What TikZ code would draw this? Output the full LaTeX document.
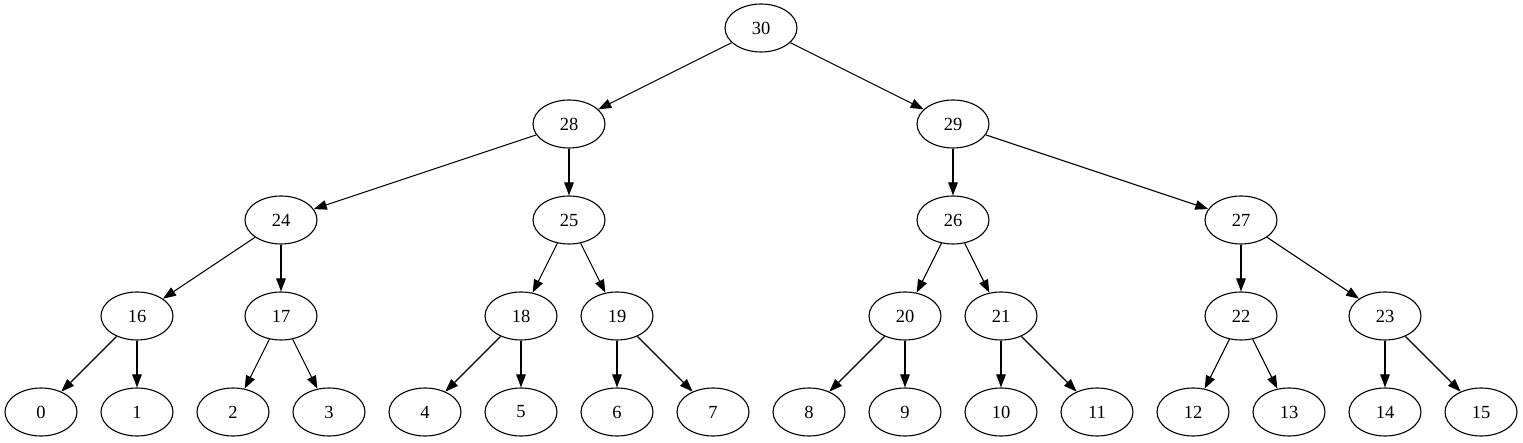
\documentclass[tikz,border=0pt]{standalone}
\usepackage{fontspec}
\setmainfont{Liberation Serif}
\usetikzlibrary{arrows.meta,shapes.geometric}
\begin{document}
\begin{tikzpicture}[x=1pt,y=-1pt,
  tn/.style={draw,ellipse,minimum width=72pt,minimum height=48pt,inner sep=0pt,line width=1.1pt,font=\fontsize{18.5}{20}\selectfont},
  ed/.style={line width=1.1pt,-{Triangle[length=13pt,width=9.5pt]}}]
\useasboundingbox (0,0) rectangle (1523,443);
\node[tn] (n30) at (761,28) {30};
\node[tn] (n28) at (569,124) {28};
\node[tn] (n29) at (953,124) {29};
\node[tn] (n24) at (281,220) {24};
\node[tn] (n25) at (569,220) {25};
\node[tn] (n26) at (953,220) {26};
\node[tn] (n27) at (1241,220) {27};
\node[tn] (n16) at (137,316) {16};
\node[tn] (n17) at (281,316) {17};
\node[tn] (n18) at (521,316) {18};
\node[tn] (n19) at (617,316) {19};
\node[tn] (n20) at (905,316) {20};
\node[tn] (n21) at (1001,316) {21};
\node[tn] (n22) at (1241,316) {22};
\node[tn] (n23) at (1385,316) {23};
\foreach \i in {0,...,15} {
  \node[tn] (n\i) at ({41+96*\i},412) {\i};
}
\draw[ed] (n30) -- (n28);
\draw[ed] (n30) -- (n29);
\draw[ed] (n28) -- (n24);
\draw[ed] (n28) -- (n25);
\draw[ed] (n29) -- (n26);
\draw[ed] (n29) -- (n27);
\draw[ed] (n24) -- (n16);
\draw[ed] (n24) -- (n17);
\draw[ed] (n25) -- (n18);
\draw[ed] (n25) -- (n19);
\draw[ed] (n26) -- (n20);
\draw[ed] (n26) -- (n21);
\draw[ed] (n27) -- (n22);
\draw[ed] (n27) -- (n23);
\draw[ed] (n16) -- (n0);
\draw[ed] (n16) -- (n1);
\draw[ed] (n17) -- (n2);
\draw[ed] (n17) -- (n3);
\draw[ed] (n18) -- (n4);
\draw[ed] (n18) -- (n5);
\draw[ed] (n19) -- (n6);
\draw[ed] (n19) -- (n7);
\draw[ed] (n20) -- (n8);
\draw[ed] (n20) -- (n9);
\draw[ed] (n21) -- (n10);
\draw[ed] (n21) -- (n11);
\draw[ed] (n22) -- (n12);
\draw[ed] (n22) -- (n13);
\draw[ed] (n23) -- (n14);
\draw[ed] (n23) -- (n15);
\end{tikzpicture}
\end{document}
